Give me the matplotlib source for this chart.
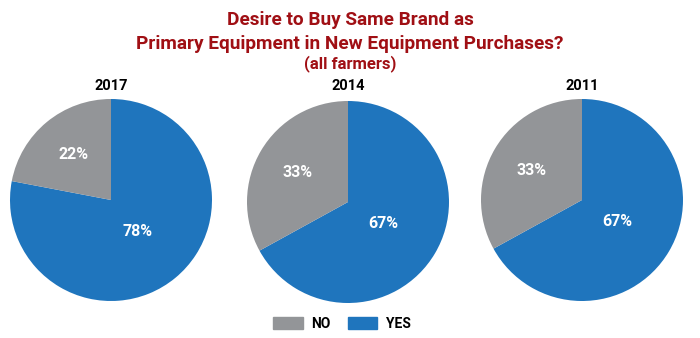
import matplotlib
matplotlib.use("Agg")
import matplotlib.pyplot as plt
import numpy as np
from matplotlib.patches import Patch

plt.rcParams["font.family"] = ["Roboto", "DejaVu Sans"]

years = ["2017", "2014", "2011"]
yes_pct = [78, 67, 67]
no_pct = [22, 33, 33]
legend_labels = ["NO", "YES"]

title_lines = [
    "Desire to Buy Same Brand as",
    "Primary Equipment in New Equipment Purchases?",
    "(all farmers)",
]

BLUE = "#1f75bd"
GRAY = "#939598"
RED = "#a00f14"

W, H = 700, 338
fig = plt.figure(figsize=(W / 100, H / 100), dpi=100)

# pie centres / radius in pixels
centres = [(111, 200), (348, 202), (582, 200)]
radius_px = 101


def px_axes(cx, cy, r):
    return fig.add_axes([(cx - r) / W, (H - cy - r) / H, 2 * r / W, 2 * r / H])


for year, yes, no, (cx, cy) in zip(years, yes_pct, no_pct, centres):
    ax = px_axes(cx, cy, radius_px)
    wedges, _ = ax.pie([yes, no], colors=[BLUE, GRAY], startangle=90,
                       counterclock=False, radius=1.0,
                       wedgeprops=dict(linewidth=0))
    ax.set_xlim(-1, 1)
    ax.set_ylim(-1, 1)
    ax.set_aspect("equal")
    for w, val, dist in zip(wedges, [yes, no], [0.41, 0.58]):
        mid = np.deg2rad((w.theta1 + w.theta2) / 2)
        ax.text(dist * np.cos(mid), dist * np.sin(mid), f"{val}%",
                ha="center", va="center", color="white", fontsize=11.5,
                fontweight="bold")
    fig.text(cx / W, 1 - 86 / H, year, ha="center", va="center",
             fontsize=10.5, fontweight="bold", color="black")

# title
for txt, y, fs in zip(title_lines, [20, 44, 64], [13.7, 13.7, 12]):
    fig.text(350 / W, 1 - y / H, txt, ha="center", va="center",
             fontsize=fs, fontweight="bold", color=RED)

# legend
fig.legend(handles=[Patch(color=GRAY), Patch(color=BLUE)], labels=legend_labels,
           loc="center", bbox_to_anchor=(342 / W, 1 - 324 / H), ncol=2,
           frameon=False, handlelength=2.1, handleheight=0.9,
           handletextpad=0.6, columnspacing=1.3,
           prop=dict(weight="bold", size=10))

fig.savefig("out.png", dpi=100)
